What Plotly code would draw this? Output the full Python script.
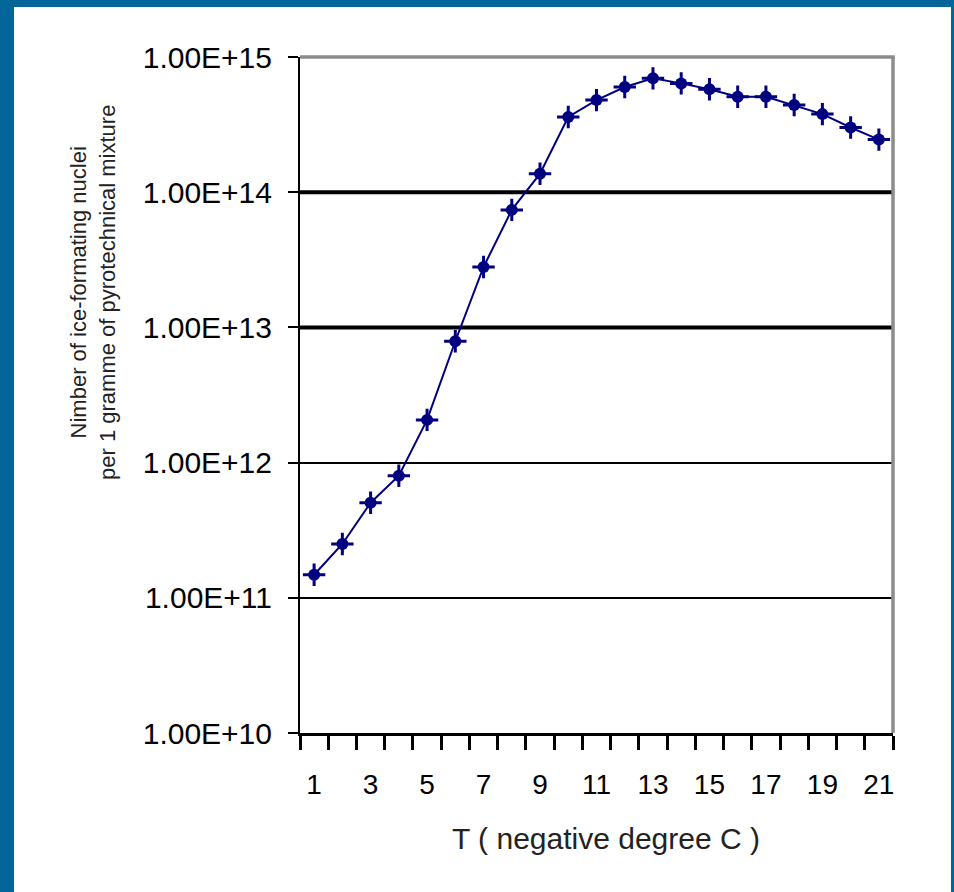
import plotly.graph_objects as go

# ---- data ----
temperature = list(range(1, 22))
nuclei = [1.48e11, 2.5e11, 5.05e11, 8.0e11, 2.07e12, 7.9e12, 2.8e13, 7.4e13,
          1.37e14, 3.6e14, 4.8e14, 6.0e14, 6.95e14, 6.38e14, 5.77e14, 5.08e14,
          5.08e14, 4.41e14, 3.78e14, 3.01e14, 2.45e14]
x_tick_vals = [1, 3, 5, 7, 9, 11, 13, 15, 17, 19, 21]
x_tick_text = [str(v) for v in x_tick_vals]
y_tick_vals = [1e10, 1e11, 1e12, 1e13, 1e14, 1e15]
y_tick_text = ["1.00E+10", "1.00E+11", "1.00E+12", "1.00E+13", "1.00E+14", "1.00E+15"]
thick_grid = [1e13, 1e14]
x_title = "T ( negative degree C )"
y_title = "Nimber of ice-formating nuclei<br>per 1 gramme of pyrotechnical mixture"

NAVY = "#000080"
BLUE_BG = "#02669a"
TEXT_FONT = "Liberation Sans, Arial, sans-serif"

W, H = 954, 892
L, R, T, B = 300, 893, 57, 733  # plot area in pixels
pw, ph = R - L, B - T


def px_x(p):
    return (p - L) / pw


def px_y(p):
    return (B - p) / ph


fig = go.Figure()
fig.add_trace(go.Scatter(
    x=temperature, y=nuclei, mode="lines+markers",
    line=dict(color=NAVY, width=2),
    marker=dict(symbol="circle", size=12, color=NAVY),
    showlegend=False, hoverinfo="skip"))
fig.add_trace(go.Scatter(
    x=temperature, y=nuclei, mode="markers",
    marker=dict(symbol="cross-thin", size=16, line=dict(color=NAVY, width=3)),
    showlegend=False, hoverinfo="skip"))

shapes = []
# thicker major gridlines
for g in thick_grid:
    shapes.append(dict(type="line", xref="paper", yref="y", x0=0, x1=1, y0=g, y1=g,
                       line=dict(color="black", width=4), layer="below"))
# grey top and right frame
shapes.append(dict(type="line", xref="paper", yref="paper", x0=0, x1=1.003, y0=1, y1=1,
                   line=dict(color="#8c8c8c", width=3.5)))
shapes.append(dict(type="line", xref="paper", yref="paper", x0=1, x1=1, y0=0, y1=1,
                   line=dict(color="#8c8c8c", width=3.5)))
# blue page border (left, top, right)
shapes.append(dict(type="rect", xref="paper", yref="paper",
                   x0=px_x(0), x1=px_x(14), y0=px_y(W + 10), y1=px_y(-5),
                   fillcolor=BLUE_BG, line=dict(width=0)))
shapes.append(dict(type="rect", xref="paper", yref="paper",
                   x0=px_x(0), x1=px_x(W + 5), y0=px_y(7), y1=px_y(-5),
                   fillcolor=BLUE_BG, line=dict(width=0)))
shapes.append(dict(type="rect", xref="paper", yref="paper",
                   x0=px_x(951), x1=px_x(W + 5), y0=px_y(W + 10), y1=px_y(-5),
                   fillcolor=BLUE_BG, line=dict(width=0)))

fig.update_layout(
    width=W, height=H,
    margin=dict(l=L, r=W - R, t=T, b=H - B, pad=0),
    paper_bgcolor="white", plot_bgcolor="white",
    shapes=shapes,
    xaxis=dict(
        range=[0.5, 21.5], showgrid=False, zeroline=False,
        showline=True, linecolor="black", linewidth=3,
        tickmode="array", tickvals=x_tick_vals, ticktext=x_tick_text,
        ticks="", ticklabelstandoff=24,
        tickfont=dict(family=TEXT_FONT, size=28, color="black"),
        minor=dict(tickmode="linear", tick0=0.5, dtick=1, ticks="outside",
                   ticklen=14, tickwidth=2.5, tickcolor="black", showgrid=False),
    ),
    yaxis=dict(
        type="log", range=[10, 15],
        showline=True, linecolor="black", linewidth=2,
        showgrid=True, gridcolor="black", gridwidth=2,
        zeroline=False,
        tickmode="array", tickvals=y_tick_vals, ticktext=y_tick_text,
        ticks="outside", ticklen=10, tickwidth=2, tickcolor="black",
        ticklabelstandoff=10,
        tickfont=dict(family=TEXT_FONT, size=30, color="black"),
    ),
    annotations=[
        dict(text=x_title, xref="paper", yref="paper", x=px_x(606), y=px_y(838),
             xanchor="center", yanchor="middle", showarrow=False,
             font=dict(family=TEXT_FONT, size=30, color="#222")),
        dict(text=y_title, xref="paper", yref="paper", x=px_x(93), y=px_y(293),
             xanchor="center", yanchor="middle", showarrow=False, textangle=-90,
             font=dict(family=TEXT_FONT, size=22, color="#222")),
    ],
)

fig.write_html("out.html")
